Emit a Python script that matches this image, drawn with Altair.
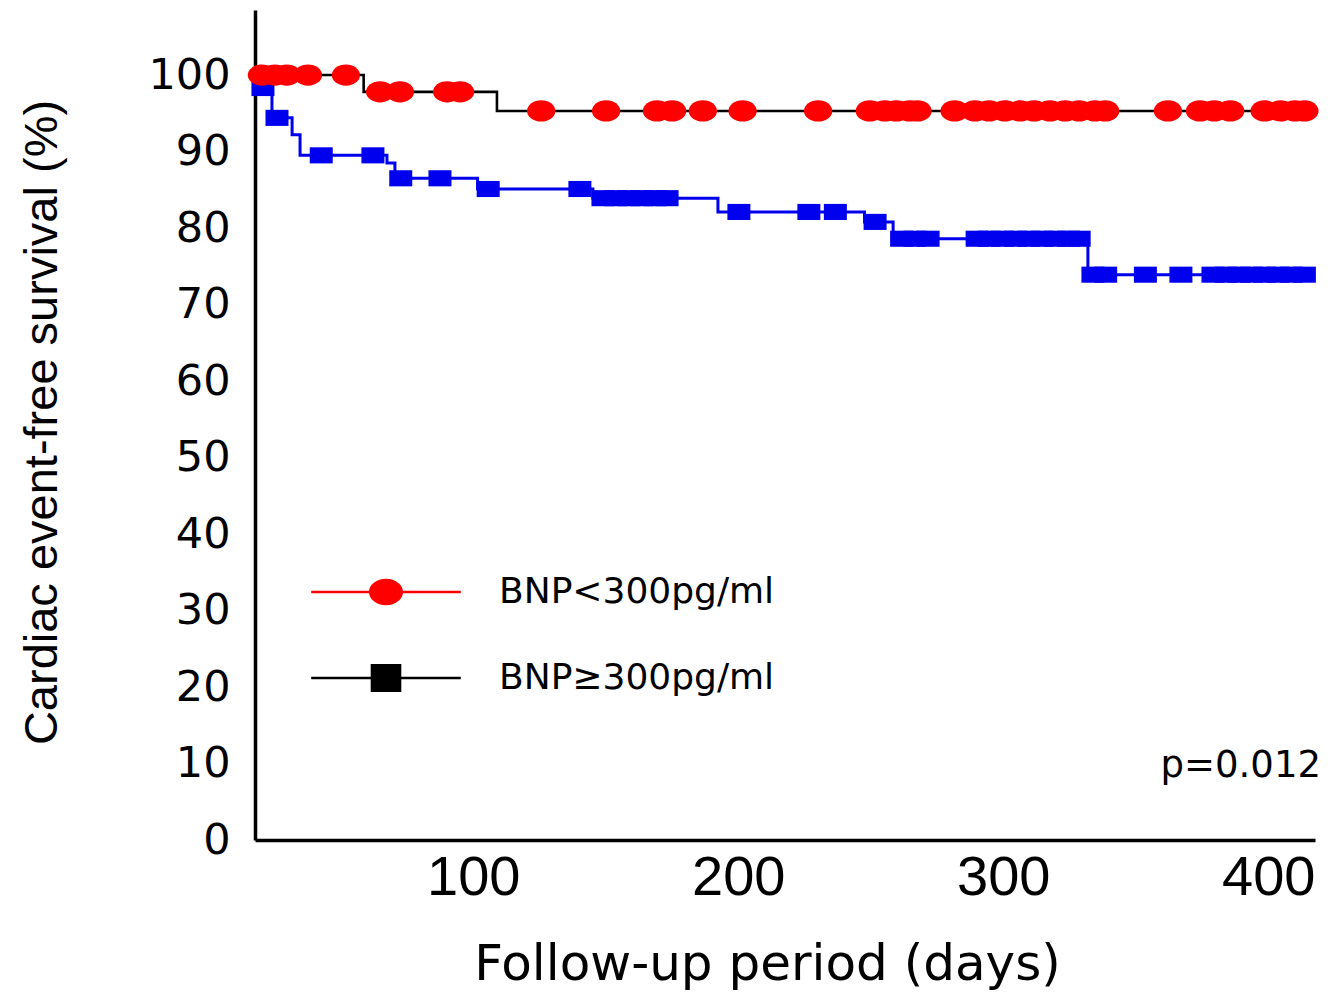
import altair as alt
import pandas as pd

# ---- data ----
groups = ["BNP<300pg/ml", "BNP≥300pg/ml"]

red_step_days = [0, 41, 91.3, 400]
red_step_surv = [100, 97.8, 95.3, 95.3]

red_censor_days = [2.6, 7.5, 12, 20, 34.3, 47.2, 54.7, 72.5, 77.4, 108, 132.5, 151.7,
                   157.4, 169, 184, 212.5, 232, 237.7, 242, 247, 250, 264, 271.7, 277,
                   283, 288.7, 294, 300, 305.7, 311, 317, 320.8, 344.5, 356.6, 362, 368,
                   381, 387, 392.5, 396]
red_censor_surv = [100, 100, 100, 100, 100, 97.8, 97.8, 97.8, 97.8, 95.3, 95.3, 95.3,
                   95.3, 95.3, 95.3, 95.3, 95.3, 95.3, 95.3, 95.3, 95.3, 95.3, 95.3, 95.3,
                   95.3, 95.3, 95.3, 95.3, 95.3, 95.3, 95.3, 95.3, 95.3, 95.3, 95.3, 95.3,
                   95.3, 95.3, 95.3, 95.3]

blue_step_days = [0, 1, 6.4, 14, 17, 49.8, 52.8, 84, 127.5, 174.7, 230, 240.8, 314.3, 400]
blue_step_surv = [100, 98.3, 94.4, 92.2, 89.5, 88.5, 86.5, 85.1, 83.9, 82.1, 80.8, 78.6, 73.9, 73.9]

blue_censor_days = [3, 8.3, 25, 44.5, 55, 69.8, 88, 122.6, 131.3, 136.2, 141.1, 146, 151,
                    155.5, 182.6, 209, 219, 234, 244, 249, 254, 272.5, 277, 282, 287, 292,
                    297, 302, 307, 311, 316.2, 321, 336, 349.4, 361.5, 366.4, 371.3, 376,
                    381, 386, 391, 396]
blue_censor_surv = [98.3, 94.4, 89.5, 89.5, 86.5, 86.5, 85.1, 85.1, 83.9, 83.9, 83.9, 83.9,
                    83.9, 83.9, 82.1, 82.1, 82.1, 80.8, 78.6, 78.6, 78.6, 78.6, 78.6, 78.6,
                    78.6, 78.6, 78.6, 78.6, 78.6, 78.6, 73.9, 73.9, 73.9, 73.9, 73.9, 73.9,
                    73.9, 73.9, 73.9, 73.9, 73.9, 73.9]

x_ticks = [100, 200, 300, 400]
y_ticks = [0, 10, 20, 30, 40, 50, 60, 70, 80, 90, 100]
p_text = ["p=0.012"]
p_days = [400]
p_surv = [9.7]

# ---- tables ----
red_steps = pd.DataFrame({"days": red_step_days, "surv": red_step_surv})
blue_steps = pd.DataFrame({"days": blue_step_days, "surv": blue_step_surv})
red_cens = pd.DataFrame({"days": red_censor_days, "surv": red_censor_surv})
blue_cens = pd.DataFrame({"days": blue_censor_days, "surv": blue_censor_surv})
legend_df = pd.DataFrame({"group": groups})
p_df = pd.DataFrame({"days": p_days, "surv": p_surv, "txt": p_text})

# ---- styling ----
ELLIPSE = "M-1,0A1,0.75,0,1,1,1,0A1,0.75,0,1,1,-1,0Z"
RECT = "M-1,-0.7H1V0.7H-1Z"
LEG_RED = ("M-4.4,-0.07H-0.95V0.07H-4.4Z M0.95,-0.07H4.4V0.07H0.95Z "
           "M-1,0A1,0.78,0,1,1,1,0A1,0.78,0,1,1,-1,0Z")
LEG_BLACK = ("M-4.4,-0.07H-0.9V0.07H-4.4Z M0.9,-0.07H4.4V0.07H0.9Z "
             "M-0.9,-0.82H0.9V0.82H-0.9Z")

ARIAL = "Liberation Sans, Arial, sans-serif"
WIDE = "DejaVu Sans, Noto Sans, sans-serif"

x_scale = alt.Scale(domain=[0, 400], nice=False, zero=False)
y_scale = alt.Scale(domain=[0, 108.5], nice=False)

x_axis = alt.Axis(values=x_ticks, title="Follow-up period (days)", grid=False, ticks=False,
                  domainColor="black", domainWidth=3.5, labelFont=ARIAL, labelFontSize=56,
                  labelColor="black", labelPadding=10, labelAlign="right", labelFlush=False,
                  titleFont=WIDE, titleFontSize=50, titleFontWeight="normal", titleColor="black",
                  titleX=512, titleY=139, titleBaseline="alphabetic")
y_axis = alt.Axis(values=y_ticks, title="Cardiac event-free survival (%)", grid=False, ticks=False,
                  domainColor="black", domainWidth=3.5, labelFont=WIDE, labelFontSize=43,
                  labelColor="black", labelPadding=25, labelFlush=False,
                  titleFont=ARIAL, titleFontSize=47, titleFontWeight="normal", titleColor="black",
                  titleX=-213, titleY=412, titleBaseline="middle", titleAngle=270)

X = alt.X("days:Q", scale=x_scale, axis=x_axis)
Y = alt.Y("surv:Q", scale=y_scale, axis=y_axis)

red_line = alt.Chart(red_steps).mark_line(interpolate="step-after", color="black",
                                           strokeWidth=2.6).encode(x=X, y=Y)
blue_line = alt.Chart(blue_steps).mark_line(interpolate="step-after", color="#0000ee",
                                             strokeWidth=3).encode(x=X, y=Y)
blue_pts = alt.Chart(blue_cens).mark_point(shape=RECT, filled=True, size=529, opacity=1,
                                           color="#0000ee").encode(x=X, y=Y)
red_pts = alt.Chart(red_cens).mark_point(shape=ELLIPSE, filled=True, size=800, opacity=1,
                                         color="#ff0000").encode(x=X, y=Y)

legend = alt.Legend(orient="none", legendX=113, legendY=564, title=None, symbolSize=1156,
                    labelFont=WIDE, labelFontSize=36, labelColor="black", labelOffset=95,
                    rowPadding=50, labelLimit=800, padding=0, symbolStrokeWidth=0)
legend_layer = alt.Chart(legend_df).mark_point(filled=True, opacity=1).encode(
    x=alt.X("days:Q", scale=x_scale, axis=x_axis),
    y=alt.Y("surv:Q", scale=y_scale, axis=y_axis),
    color=alt.Color("group:N", scale=alt.Scale(domain=groups, range=["#ff0000", "#000000"]),
                    legend=legend),
    shape=alt.Shape("group:N", scale=alt.Scale(domain=groups, range=[LEG_RED, LEG_BLACK]),
                    legend=legend),
).transform_filter("false")

p_layer = alt.Chart(p_df).mark_text(align="right", baseline="middle", dx=6, font=WIDE,
                                    fontSize=37, color="black").encode(x=X, y=Y, text="txt:N")

chart = alt.layer(red_line, blue_line, blue_pts, red_pts, legend_layer, p_layer).properties(
    width=1060, height=830,
    autosize=alt.AutoSizeParams(type="none"),
    padding={"left": 247, "top": 2, "right": 15, "bottom": 150},
    background="white",
).configure_view(stroke=None)

chart.save("out.html", embed_options={"renderer": "svg", "actions": False})
